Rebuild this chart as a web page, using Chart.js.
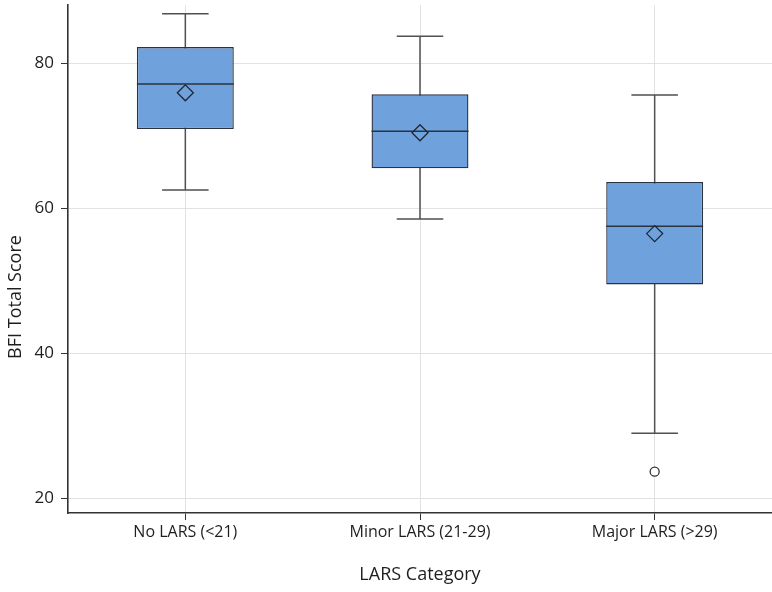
<!DOCTYPE html>
<html lang="en">
<head>
  <meta charset="UTF-8">
  <title>BFI Total Score by LARS Category</title>
  <script src="https://cdn.jsdelivr.net/npm/chart.js"></script>
  <style>
    body { margin: 0; background: #fff; }
    canvas#chartCanvas { display: block; }
  </style>
</head>
<body>
  <canvas id="chartCanvas" width="772" height="592"></canvas>

  <script>
    // box plot summary per LARS group
    const categories = ["No LARS (<21)", "Minor LARS (21-29)", "Major LARS (>29)"];
    const whiskerLow = [62.5, 58.5, 29.0];
    const q1 = [70.9, 65.5, 49.5];
    const medians = [77.1, 70.6, 57.5];
    const q3 = [82.2, 75.7, 63.6];
    const whiskerHigh = [86.8, 83.7, 75.6];
    const means = [75.9, 70.4, 56.5];
    const outliers = [null, null, 23.7];
    const yTicks = [20, 40, 60, 80];

    const FONT = "'Open Sans', 'DejaVu Sans', sans-serif";
    const INK = "#1e1e1e";
    const BOX = 2; // dataset index of the boxes

    // whiskers behind the boxes, medians on top, y title
    const boxParts = {
      id: "boxParts",
      beforeDatasetsDraw(chart) {
        const ctx = chart.ctx, y = chart.scales.y;
        const bars = chart.getDatasetMeta(BOX).data;
        ctx.save();
        ctx.strokeStyle = "#505050";
        ctx.lineWidth = 1.5;
        bars.forEach((bar, i) => {
          const half = bar.width * 0.24;
          const lo = y.getPixelForValue(whiskerLow[i]);
          const hi = y.getPixelForValue(whiskerHigh[i]);
          ctx.beginPath();
          ctx.moveTo(bar.x, lo); ctx.lineTo(bar.x, hi);
          ctx.moveTo(bar.x - half, lo); ctx.lineTo(bar.x + half, lo);
          ctx.moveTo(bar.x - half, hi); ctx.lineTo(bar.x + half, hi);
          ctx.stroke();
        });
        ctx.restore();
      },
      afterDatasetDraw(chart, args) {
        if (args.index !== BOX) return;
        const ctx = chart.ctx, y = chart.scales.y;
        ctx.save();
        ctx.strokeStyle = "#2b3340";
        ctx.lineWidth = 1.5;
        args.meta.data.forEach((bar, i) => {
          const py = y.getPixelForValue(medians[i]);
          ctx.beginPath();
          ctx.moveTo(bar.x - bar.width / 2, py);
          ctx.lineTo(bar.x + bar.width / 2, py);
          ctx.stroke();
        });
        ctx.restore();
      },
      afterDraw(chart) {
        const ctx = chart.ctx;
        ctx.save();
        ctx.translate(16, 297);
        ctx.rotate(-Math.PI / 2);
        ctx.font = "18px " + FONT;
        ctx.fillStyle = INK;
        ctx.textAlign = "center";
        ctx.textBaseline = "middle";
        ctx.fillText("BFI Total Score", 0, 0);
        ctx.restore();
      }
    };

    new Chart(document.getElementById("chartCanvas"), {
      type: "bar",
      data: {
        labels: categories,
        datasets: [
          {
            type: "line",
            label: "Mean",
            data: means,
            showLine: false,
            pointStyle: "rectRot",
            pointRadius: 8,
            pointBackgroundColor: "rgba(0,0,0,0)",
            pointBorderColor: "#1f2733",
            pointBorderWidth: 1.3,
            order: 1
          },
          {
            type: "line",
            label: "Outlier",
            data: outliers,
            showLine: false,
            pointStyle: "circle",
            pointRadius: 4.5,
            pointBackgroundColor: "#fff",
            pointBorderColor: "#333",
            pointBorderWidth: 1.3,
            order: 2
          },
          {
            label: "IQR",
            data: q1.map((v, i) => [v, q3[i]]),
            backgroundColor: "#6fa1dc",
            borderColor: "#2b3340",
            borderWidth: 1.4,
            borderSkipped: false,
            categoryPercentage: 1,
            barPercentage: 0.413,
            order: 3
          }
        ]
      },
      options: {
        responsive: false,
        animation: false,
        layout: { autoPadding: false, padding: { top: 5, right: 0, left: 0, bottom: 0 } },
        plugins: {
          legend: { display: false },
          tooltip: { enabled: false }
        },
        scales: {
          x: {
            offset: true,
            grid: {
              offset: false,
              color: "#e2e2e2",
              tickColor: "#333",
              tickLength: 7
            },
            border: { color: "#333", width: 1.6 },
            ticks: {
              color: INK,
              font: { family: FONT, size: 16 },
              padding: 3,
              maxRotation: 0
            },
            title: {
              display: true,
              text: "LARS Category",
              color: INK,
              font: { family: FONT, size: 18 },
              padding: { top: 0, bottom: 6 }
            },
            afterFit(scale) {
              scale.height = 79;
              scale.paddingLeft = 0;
              scale.paddingRight = 0;
            }
          },
          y: {
            min: 18,
            max: 88,
            afterBuildTicks(scale) { scale.ticks = yTicks.map(v => ({ value: v })); },
            grid: {
              color: "#e2e2e2",
              tickColor: "#333",
              tickLength: 7
            },
            border: { color: "#333", width: 1.6 },
            ticks: {
              color: INK,
              font: { family: FONT, size: 17 },
              padding: 7
            },
            afterFit(scale) {
              scale.width = 68;
              scale.paddingTop = 0;
              scale.paddingBottom = 0;
            }
          }
        }
      },
      plugins: [boxParts]
    });
  </script>
</body>
</html>
